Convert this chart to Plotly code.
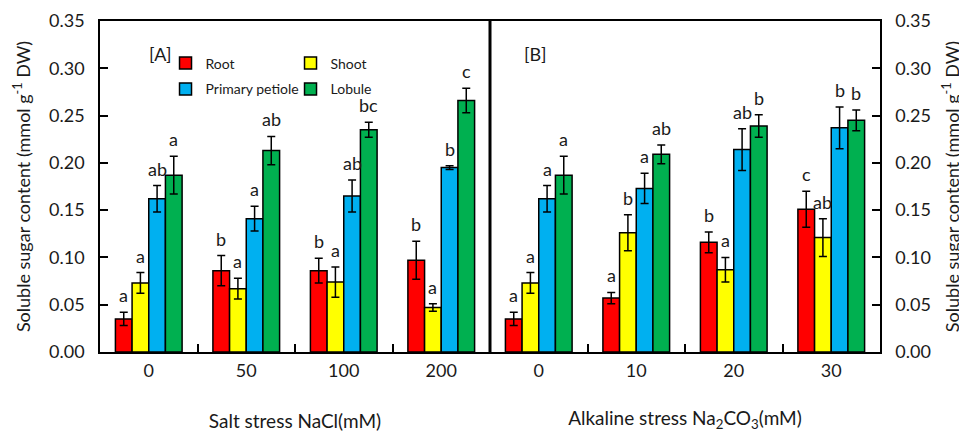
import plotly.graph_objects as go

# ---------------- data ----------------
salt_levels = ["0", "50", "100", "200"]
alk_levels = ["0", "10", "20", "30"]
series_names = ["Root", "Shoot", "Primary petiole", "Lobule"]
series_colors = ["#FF0000", "#FFFF00", "#00B0F0", "#00B050"]

salt_root = [0.035, 0.086, 0.086, 0.097]
salt_shoot = [0.073, 0.067, 0.074, 0.047]
salt_petiole = [0.162, 0.141, 0.165, 0.195]
salt_lobule = [0.187, 0.213, 0.235, 0.266]

salt_root_err = [0.007, 0.016, 0.013, 0.020]
salt_shoot_err = [0.011, 0.011, 0.016, 0.004]
salt_petiole_err = [0.014, 0.013, 0.017, 0.002]
salt_lobule_err = [0.020, 0.015, 0.008, 0.013]

salt_root_sig = ["a", "b", "b", "b"]
salt_shoot_sig = ["a", "a", "a", "a"]
salt_petiole_sig = ["ab", "a", "ab", "b"]
salt_lobule_sig = ["a", "ab", "bc", "c"]

alk_root = [0.035, 0.057, 0.116, 0.151]
alk_shoot = [0.073, 0.126, 0.087, 0.121]
alk_petiole = [0.162, 0.173, 0.214, 0.237]
alk_lobule = [0.187, 0.209, 0.239, 0.245]

alk_root_err = [0.007, 0.006, 0.011, 0.019]
alk_shoot_err = [0.011, 0.019, 0.013, 0.020]
alk_petiole_err = [0.014, 0.016, 0.022, 0.022]
alk_lobule_err = [0.020, 0.010, 0.012, 0.011]

alk_root_sig = ["a", "a", "b", "c"]
alk_shoot_sig = ["a", "b", "a", "ab"]
alk_petiole_sig = ["a", "a", "ab", "b"]
alk_lobule_sig = ["a", "ab", "b", "b"]

y_ticks = [0.00, 0.05, 0.10, 0.15, 0.20, 0.25, 0.30, 0.35]

# ---------------- figure ----------------
FONT = "Lato"
TXT = "#1a1a1a"
BARGAP = 0.316

fig = go.Figure()

panels = [
    (salt_levels,
     [salt_root, salt_shoot, salt_petiole, salt_lobule],
     [salt_root_err, salt_shoot_err, salt_petiole_err, salt_lobule_err],
     [salt_root_sig, salt_shoot_sig, salt_petiole_sig, salt_lobule_sig],
     "x", "y"),
    (alk_levels,
     [alk_root, alk_shoot, alk_petiole, alk_lobule],
     [alk_root_err, alk_shoot_err, alk_petiole_err, alk_lobule_err],
     [alk_root_sig, alk_shoot_sig, alk_petiole_sig, alk_lobule_sig],
     "x2", "y2"),
]

legend_ids = ["legend", "legend", "legend2", "legend2"]

annotations = []
nser = len(series_names)
bw = (1 - BARGAP) / nser
for p, (cats, vals, errs, sigs, xa, ya) in enumerate(panels):
    for j in range(nser):
        fig.add_trace(go.Bar(
            x=cats, y=vals[j], name=series_names[j],
            marker=dict(color=series_colors[j], line=dict(color="black", width=1.5)),
            error_y=dict(type="data", array=errs[j], color="black", thickness=1.5, width=4),
            xaxis=xa, yaxis=ya,
            showlegend=(p == 0), legend=legend_ids[j],
        ))
        for i in range(len(cats)):
            annotations.append(dict(
                x=i + (j - (nser - 1) / 2) * bw, y=vals[j][i] + errs[j][i],
                xref=xa, yref=ya, text=sigs[j][i], showarrow=False,
                yanchor="bottom", xanchor="center", yshift=4,
                font=dict(family=FONT, size=18, color=TXT),
            ))

annotations.append(dict(x=0.0775, y=0.90, xref="paper", yref="paper", text="[A]",
                        showarrow=False, xanchor="center", yanchor="middle",
                        font=dict(family=FONT, size=18, color=TXT)))
annotations.append(dict(x=0.558, y=0.90, xref="paper", yref="paper", text="[B]",
                        showarrow=False, xanchor="center", yanchor="middle",
                        font=dict(family=FONT, size=18, color=TXT)))

ytitle = "Soluble sugar content (mmol g<sup>-1</sup> DW)"

xcommon = dict(type="category", tickson="boundaries", ticks="inside", ticklen=8,
               tickwidth=1.5, tickcolor="black", showline=True, linecolor="black",
               linewidth=1.5, mirror=True, showgrid=False, zeroline=False,
               range=[-0.5, 3.5], ticklabelstandoff=2, automargin=False,
               tickfont=dict(family=FONT, size=18, color=TXT))
ycommon = dict(range=[0, 0.35], tickvals=y_ticks, tickformat=".2f", ticks="inside",
               ticklen=8, tickwidth=1.5, tickcolor="black", showline=True,
               linecolor="black", linewidth=1.5, showgrid=False, zeroline=False,
               ticklabelstandoff=10, automargin=False,
               tickfont=dict(family=FONT, size=18, color=TXT))

# the page body adds an 8 px offset; margins compensate for it
fig.update_layout(
    width=959, height=424,
    margin=dict(l=92, r=87, t=13, b=80, autoexpand=False),
    paper_bgcolor="white", plot_bgcolor="white",
    barmode="group", bargap=BARGAP, bargroupgap=0,
    font=dict(family=FONT, color=TXT),
    xaxis=dict(domain=[0, 0.5], anchor="y",
               title=dict(text="Salt stress NaCl(mM)", standoff=43,
                          font=dict(family=FONT, size=19, color=TXT)),
               **xcommon),
    xaxis2=dict(domain=[0.5, 1], anchor="y2",
                title=dict(text="Alkaline stress Na<sub>2</sub>CO<sub>3</sub>(mM)", standoff=35,
                           font=dict(family=FONT, size=19, color=TXT)),
                **xcommon),
    yaxis=dict(anchor="x", side="left",
               title=dict(text=ytitle, standoff=14,
                          font=dict(family=FONT, size=18, color=TXT)),
               **ycommon),
    yaxis2=dict(anchor="x2", side="right",
                title=dict(text=ytitle, standoff=16,
                           font=dict(family=FONT, size=18, color=TXT)),
                **ycommon),
    legend=dict(orientation="h", x=0.084, y=0.92, xanchor="left", yanchor="top",
                entrywidth=80, entrywidthmode="pixels", bgcolor="rgba(0,0,0,0)",
                font=dict(family=FONT, size=14, color=TXT), itemwidth=30,
                tracegroupgap=0, traceorder="normal"),
    legend2=dict(orientation="h", x=0.084, y=0.842, xanchor="left", yanchor="top",
                 entrywidth=80, entrywidthmode="pixels", bgcolor="rgba(0,0,0,0)",
                 font=dict(family=FONT, size=14, color=TXT), itemwidth=30,
                 tracegroupgap=0, traceorder="normal"),
    annotations=annotations,
    shapes=[dict(type="line", xref="paper", yref="paper", x0=0.5, x1=0.5, y0=0, y1=1,
                 line=dict(color="black", width=3))],
)

fig.write_html("out.html")
